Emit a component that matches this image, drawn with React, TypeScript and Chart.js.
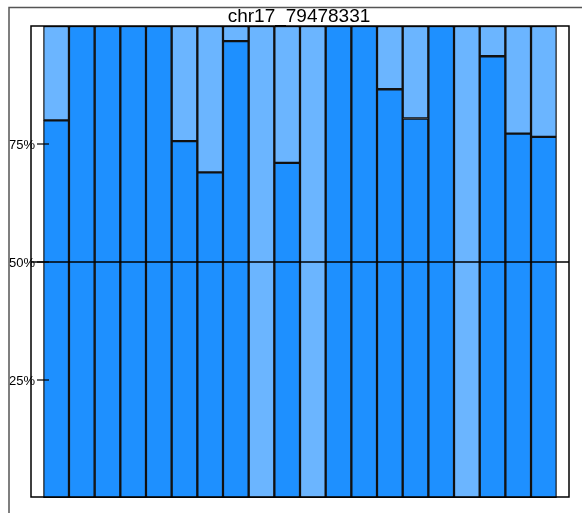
import React, { useEffect, useRef } from "react";
import { Chart, registerables } from "chart.js";

Chart.register(...registerables);

const TITLE = "chr17_79478331";
const categories = [
  "S1", "S2", "S3", "S4", "S5", "S6", "S7", "S8", "S9", "S10",
  "S11", "S12", "S13", "S14", "S15", "S16", "S17", "S18", "S19", "S20",
];
const darkValues = [80, 100, 100, 100, 100, 75.6, 69, 96.8, 0, 71, 0, 100, 100, 86.6, 80.4, 100, 0, 93.6, 77.2, 76.5];
const lightValues = [20, 0, 0, 0, 0, 24.4, 31, 3.2, 100, 29, 100, 0, 0, 13.4, 19.6, 0, 100, 6.4, 22.8, 23.5];
const tickValues = [25, 50, 75];
const tickLabels = ["25%", "50%", "75%"];

const W = 582;
const H = 513;
const BOX = { left: 31, right: 569, top: 26, bottom: 497 };

const decorPlugin = {
  id: "decor",
  beforeDraw(chart: any) {
    const ctx = chart.ctx;
    ctx.save();
    ctx.fillStyle = "#ffffff";
    ctx.fillRect(0, 0, W, H);
    ctx.restore();
  },
  afterDatasetsDraw(chart: any) {
    const ctx = chart.ctx;
    const y = chart.scales.y;
    ctx.save();
    // inner box
    ctx.strokeStyle = "#000000";
    ctx.lineWidth = 1.5;
    ctx.strokeRect(BOX.left, BOX.top, BOX.right - BOX.left, BOX.bottom - BOX.top);
    // 50% reference line
    const y50 = y.getPixelForValue(50);
    ctx.beginPath();
    ctx.moveTo(BOX.left, y50);
    ctx.lineTo(BOX.right, y50);
    ctx.stroke();
    // tick labels and tick marks
    ctx.font = "13px 'Liberation Sans', Arial, sans-serif";
    ctx.fillStyle = "#000000";
    ctx.textAlign = "right";
    ctx.textBaseline = "middle";
    ctx.lineWidth = 1.2;
    tickValues.forEach((v, i) => {
      const py = y.getPixelForValue(v);
      ctx.fillText(tickLabels[i], 35, py + 1);
      ctx.beginPath();
      ctx.moveTo(37, py);
      ctx.lineTo(49, py);
      ctx.stroke();
    });
    // outer frame
    ctx.strokeStyle = "#555555";
    ctx.lineWidth = 1.5;
    ctx.beginPath();
    ctx.moveTo(9, H);
    ctx.lineTo(9, 7.5);
    ctx.lineTo(W, 7.5);
    ctx.stroke();
    // title
    ctx.fillStyle = "#000000";
    ctx.font = "19px 'Liberation Sans', Arial, sans-serif";
    ctx.textAlign = "center";
    ctx.textBaseline = "alphabetic";
    ctx.fillText(TITLE, 299, 22);
    ctx.restore();
  },
};

export default function App() {
  const ref = useRef<HTMLCanvasElement>(null);
  useEffect(() => {
    if (!ref.current) return;
    const chart = new Chart(ref.current, {
      type: "bar",
      data: {
        labels: categories,
        datasets: [
          {
            label: "dark",
            data: darkValues,
            backgroundColor: "#1E90FF",
            borderColor: "#111111",
            borderWidth: 1.5,
            borderSkipped: false,
          },
          {
            label: "light",
            data: lightValues,
            backgroundColor: "#6BB5FF",
            borderColor: "#111111",
            borderWidth: 1.5,
            borderSkipped: false,
          },
        ],
      },
      options: {
        responsive: false,
        animation: false,
        maintainAspectRatio: false,
        layout: { padding: { left: 43.3, right: W - 556.7, top: 26, bottom: H - 498 } },
        plugins: {
          legend: { display: false },
          title: { display: false },
          tooltip: { enabled: false },
        },
        datasets: { bar: { barPercentage: 1, categoryPercentage: 1 } },
        scales: {
          x: { stacked: true, display: false, offset: true },
          y: { stacked: true, display: false, min: 0, max: 100 },
        },
      },
      plugins: [decorPlugin],
    });
    return () => chart.destroy();
  }, []);
  return (
    <div style={{ position: "absolute", left: 0, top: 0, width: W, height: H }}>
      <canvas ref={ref} width={W} height={H} style={{ width: W, height: H, display: "block" }} />
    </div>
  );
}
